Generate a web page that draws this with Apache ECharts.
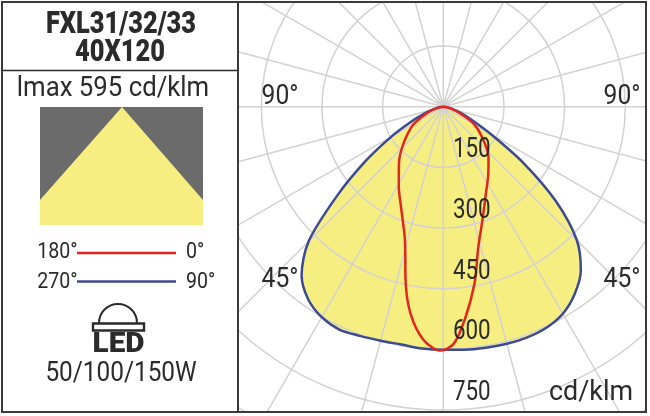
<!DOCTYPE html>
<html>
<head>
<meta charset="utf-8">
<style>
html, body { margin: 0; padding: 0; background: #fff; }
#chart { width: 650px; height: 416px; }
</style>
<script src="https://cdn.jsdelivr.net/npm/echarts@6/dist/echarts.min.js"></script>
</head>
<body>
<div id="chart"></div>
<script>
const blueAngles = [0, 5, 10, 15, 20, 25, 30, 35, 40, 45, 50, 55, 60, 65, 70, 75, 80, 85, 90];
const blueRight = [601, 603, 605, 607, 607, 603, 591, 566, 529, 467, 363, 240, 136, 78, 48, 25, 13, 5, 0];
const blueLeft = [601, 600, 597, 599, 603, 608, 601, 582, 545, 471, 343, 235, 149, 87, 50, 26, 13, 5, 0];

const redRightAngles = [2.5, 6, 10, 14, 19, 26, 34, 42, 52, 61, 68, 78, 90];
const redRight = [587, 524, 444, 358, 297, 240, 199, 167, 121, 85, 45, 17, 0];
const redLeftAngles = [0.8, 5, 9, 12, 16, 23, 29, 38, 47, 59, 68, 78, 90];
const redLeft = [603, 577, 518, 447, 344, 268, 227, 178, 135, 87, 45, 17, 0];

const radiusLabels = [150, 300, 450, 600, 750];

const fontName = 'Roboto, sans-serif';
const ink = '#2b2b2b';

// polar data is [radius, angle]; left half goes 270..360, right half 0..90
const outline = (leftA, leftV, rightA, rightV) => {
    const pts = [];
    for (let i = leftA.length - 1; i >= 0; i--) pts.push([leftV[i], 360 - leftA[i]]);
    for (let i = 0; i < rightA.length; i++) pts.push([rightV[i], rightA[i]]);
    return pts;
};

const blueData = outline(blueAngles, blueLeft, blueAngles, blueRight);
const redData = outline(redLeftAngles, redLeft, redRightAngles, redRight);

// no condensed face is installed, so text is squeezed with scaleX
const text = (str, x, y, size, align, sx, extra) => ({
    type: 'text',
    z: 110,
    x: x,
    y: y,
    scaleX: sx,
    style: Object.assign({
        text: str,
        fontFamily: fontName,
        fontSize: size,
        fill: ink,
        textAlign: align,
        textVerticalAlign: 'middle'
    }, extra || {})
});

const hline = (x1, x2, y, color, w) => ({
    type: 'line',
    z: 110,
    shape: { x1: x1, y1: y, x2: x2, y2: y },
    style: { stroke: color, lineWidth: w }
});

const box = (x, y, w, h, fill) => ({
    type: 'rect',
    z: 100,
    shape: { x: x, y: y, width: w, height: h },
    style: { fill: fill }
});

const chart = echarts.init(document.getElementById('chart'));

chart.setOption({
    animation: false,
    backgroundColor: '#fff',
    polar: { center: [443.3, 106.7], radius: [0, 364] },
    angleAxis: {
        type: 'value',
        min: 0,
        max: 360,
        interval: 15,
        startAngle: 270,
        clockwise: false,
        z: 2,
        axisLine: { show: false },
        axisTick: { show: false },
        axisLabel: { show: false },
        splitLine: { show: true, lineStyle: { color: '#d2d2d2', width: 1.5 } }
    },
    radiusAxis: {
        type: 'value',
        min: 0,
        max: 900,
        interval: 150,
        z: 2,
        axisLine: { show: false },
        axisTick: { show: false },
        axisLabel: { show: false },
        splitLine: { show: true, lineStyle: { color: '#d2d2d2', width: 1.5 } }
    },
    series: [
        {
            type: 'line',
            coordinateSystem: 'polar',
            z: 1,
            smooth: 0.3,
            symbol: 'none',
            lineStyle: { width: 0 },
            areaStyle: { color: '#f7ee82', opacity: 1 },
            data: blueData
        },
        {
            type: 'line',
            coordinateSystem: 'polar',
            z: 5,
            smooth: 0.3,
            symbol: 'none',
            lineStyle: { color: '#3c4a96', width: 2.5 },
            data: blueData
        },
        {
            type: 'line',
            coordinateSystem: 'polar',
            z: 6,
            smooth: 0.3,
            symbol: 'none',
            lineStyle: { color: '#e2261c', width: 2.5 },
            data: redData
        }
    ]
});

// ring labels sit just above their ring, right of the 0 degree spoke
const ringLabels = radiusLabels.map((v) => {
    const p = chart.convertToPixel({ seriesIndex: 0 }, [v, 0]);
    return text(String(v), p[0] + 28.5, p[1] - 17, 28, 'center', 0.8);
});

chart.setOption({
    graphic: {
        elements: [
            // cover whatever of the polar grid runs outside the right panel
            box(0, 0, 238, 416, '#fff'),
            box(646, 0, 4, 416, '#fff'),
            box(0, 412, 650, 4, '#fff'),
            box(0, 0, 650, 2, '#fff'),

            {
                type: 'rect',
                z: 105,
                shape: { x: 40, y: 107, width: 163, height: 118 },
                style: { fill: '#6b6b6b' }
            },
            {
                type: 'polygon',
                z: 106,
                shape: { points: [[122, 107], [203, 200], [203, 225], [40, 225], [40, 200]] },
                style: { fill: '#f7ee82' }
            },

            text('FXL31/32/33', 121, 25, 31, 'center', 0.82, { fontWeight: 900 }),
            text('40X120', 120, 53, 31, 'center', 0.82, { fontWeight: 900 }),
            text('lmax 595 cd/klm', 113, 89, 28, 'center', 0.92),

            text('180°', 77.5, 252, 22.5, 'right', 0.87),
            hline(77, 176, 253, '#e2261c', 2.5),
            text('0°', 186, 252, 22.5, 'left', 0.87),
            text('270°', 77.5, 282, 22.5, 'right', 0.87),
            hline(77, 176, 281.5, '#3c4a96', 2.5),
            text('90°', 186, 282, 22.5, 'left', 0.87),

            {
                type: 'arc',
                z: 110,
                shape: { cx: 118, cy: 323, r: 19, startAngle: Math.PI, endAngle: 0 },
                style: { stroke: ink, lineWidth: 2, fill: null }
            },
            {
                type: 'rect',
                z: 110,
                shape: { x: 93, y: 323.5, width: 51, height: 7 },
                style: { stroke: ink, lineWidth: 2.4, fill: '#fff' }
            },
            text('LED', 118.5, 345, 27, 'center', 1.1, { fontWeight: 900 }),
            text('50/100/150W', 121, 374, 28, 'center', 0.87),

            text('90°', 280, 97, 28, 'center', 0.88),
            text('90°', 622, 97, 28, 'center', 0.88),
            text('45°', 280, 280, 28, 'center', 0.88),
            text('45°', 622, 280, 28, 'center', 0.88),
            text('cd/klm', 591, 393, 28, 'center', 0.96),

            ...ringLabels,

            hline(2, 238, 70.5, ink, 1.5),
            {
                type: 'rect',
                z: 110,
                shape: { x: 2, y: 2, width: 644, height: 410 },
                style: { stroke: '#3a3a3a', lineWidth: 2, fill: null }
            },
            {
                type: 'line',
                z: 110,
                shape: { x1: 238, y1: 2, x2: 238, y2: 412 },
                style: { stroke: '#3a3a3a', lineWidth: 2 }
            }
        ]
    }
});
</script>
</body>
</html>
